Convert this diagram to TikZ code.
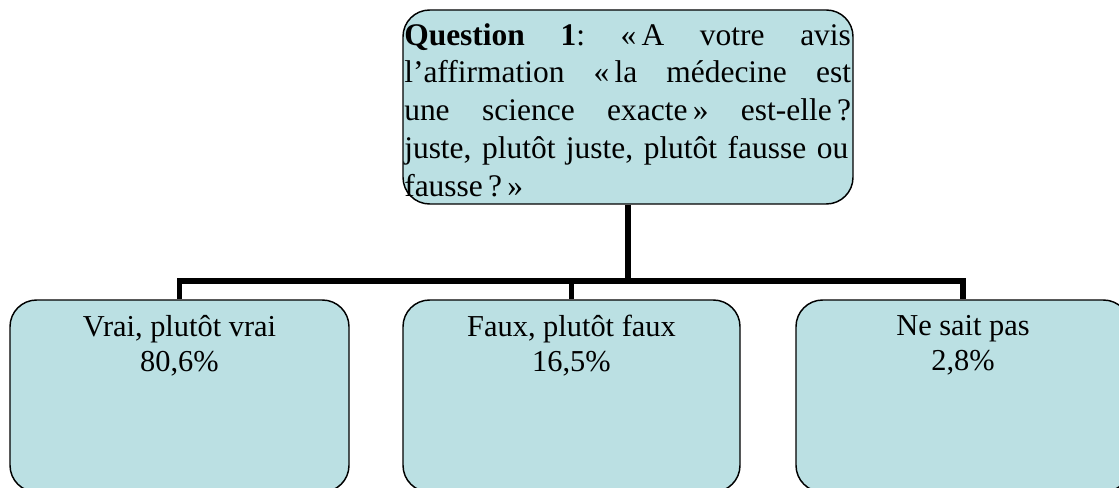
\documentclass[tikz,border=0pt]{standalone}
\usepackage{fontspec}
\setmainfont{Liberation Serif}
\definecolor{boxfill}{RGB}{187,224,227}
\tikzset{
  card/.style={draw=black, line width=1.1pt, fill=boxfill, rounded corners=20pt,
    inner sep=0pt},
  link/.style={draw=black, line width=3.8pt},
  qtext/.style={inner sep=0pt, text width=335pt, font=\fontsize{23.6pt}{28.3pt}\selectfont},
  atext/.style={inner sep=0pt, align=center, font=\fontsize{22.8pt}{26.25pt}\selectfont},
}
\begin{document}
\begin{tikzpicture}[x=0.75pt,y=-0.75pt]
  \useasboundingbox (0,0) rectangle (1119,488);
  \clip (0,0) rectangle (1119,488);

  % question box
  \node[card, minimum width=337.5pt, minimum height=145.5pt] (q) at (628,107) {};
  \node[qtext, anchor=north west] (qt) at (404,23) {%
    \hbox to \hsize{\textbf{Question}\hfill\textbf{1}:\hfill«\,A\hfill votre\hfill avis}
    \hbox to \hsize{l’affirmation\hfill«\,la\hfill médecine\hfill est}
    \hbox to \hsize{une\hfill science\hfill exacte\,»\hfill est-elle\,?}
    \hbox to \hsize{juste, plutôt juste, plutôt fausse ou}
    \hbox to \hsize{fausse\,?\,»\hfill}};

  % answer boxes
  \node[card, minimum width=254.25pt, minimum height=144pt] (a) at (179.5,396) {};
  \node[card, minimum width=252.75pt, minimum height=144pt] (b) at (571.5,396) {};
  \node[card, minimum width=250.5pt, minimum height=144pt] (c) at (963,396) {};

  \node[atext, anchor=north] (at) at (179.5,315) {Vrai, plutôt vrai\\80,6\%};
  \node[atext, anchor=north] (bt) at (571.5,315) {Faux, plutôt faux\\16,5\%};
  \node[atext, anchor=north] (ct) at (963,315) {Ne sait pas\\2,8\%};

  % connectors
  \coordinate (bus) at (628,281);
  \draw[link] (q.south) -- (q.south |- bus);
  \draw[link, line cap=rect] (a.north |- bus) -- (c.north |- bus);
  \draw[link] (a.north |- bus) -- (a.north);
  \draw[link] (b.north |- bus) -- (b.north);
  \draw[link] (c.north |- bus) -- (c.north);
\end{tikzpicture}
\end{document}
